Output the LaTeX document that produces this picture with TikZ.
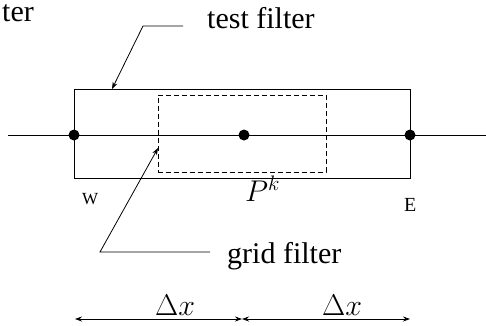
\RequirePackage{fix-cm}
\documentclass[tikz,border=0pt]{standalone}
\usepackage{fontspec}
\setmainfont{Liberation Serif}
\usetikzlibrary{arrows.meta}
\tikzset{
  thin line/.style={line width=0.8pt},
  bigtxt/.style={inner sep=0pt, font=\fontsize{30}{36}\selectfont},
  smalltxt/.style={inner sep=0pt, font=\fontsize{20}{24}\selectfont},
  dot/.style={circle, fill=black, inner sep=0pt, minimum size=11pt},
  tip/.style={-{Stealth[length=7pt,width=5pt]}},
  dtip/.style={{Stealth[length=7pt,width=5pt]}-{Stealth[length=7pt,width=5pt]}},
}
\begin{document}
\begin{tikzpicture}[x=1pt,y=-1pt]
\useasboundingbox (0,0) rectangle (486,325);
% axis line
\coordinate (la) at (8,135);
\coordinate (ra) at (486,135);
\draw[thin line] (la) -- (ra);
% test filter box
\node[draw, thin line, minimum width=336pt, minimum height=89pt, inner sep=0pt] (tb) at (242,133.5) {};
% grid filter box
\node[draw, thin line, dash pattern=on 5pt off 3pt, minimum width=168pt, minimum height=77pt, inner sep=0pt] (gb) at (242,133.5) {};
% dots
\node[dot] (w) at (74,135) {};
\node[dot] (p) at (244,135) {};
\node[dot] (e) at (410,135) {};
% labels
\node[bigtxt, anchor=base west] (ter) at (2,21) {ter};
\node[bigtxt, anchor=base west] (tf) at (207,28) {test filter};
\node[bigtxt, anchor=base west] (gf) at (227,263) {grid filter};
\node[bigtxt, anchor=base west] (pk) at (245,201) {$P^k$};
\node[inner sep=0pt, font=\fontsize{17}{20}\selectfont, anchor=base west] (wl) at (82,204) {W};
\node[smalltxt, anchor=base west] (el) at (404,211) {E};
\node[bigtxt, anchor=base west] (dx1) at (155,315) {$\Delta x$};
\node[bigtxt, anchor=base west] (dx2) at (322,315) {$\Delta x$};
% leaders
\coordinate (t1) at (183,26);
\coordinate (t2) at (143,26);
\coordinate (t3) at (112,89);
\draw[thin line, tip] (t1) -- (t2) -- (t3);
\coordinate (g1) at (210,252);
\coordinate (g2) at (100,252);
\coordinate (g3) at (158,148);
\draw[thin line, tip] (g1) -- (g2) -- (g3);
% dimension arrows
\coordinate (d1) at (75,319);
\coordinate (d2) at (242,319);
\coordinate (d3) at (410,319);
\draw[thin line, dtip] (d1) -- (d2);
\draw[thin line, dtip] (d2) -- (d3);
\end{tikzpicture}
\end{document}
